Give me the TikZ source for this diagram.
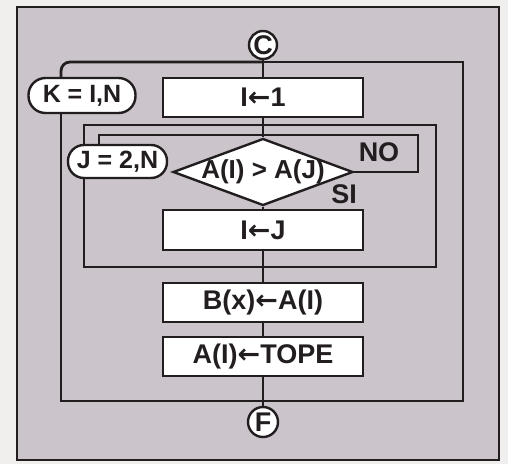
\documentclass[tikz,border=0pt]{standalone}
\usepackage{fontspec}
\setmainfont{Liberation Sans}
\newfontfamily\arrfont{DejaVu Sans}
\usetikzlibrary{shapes.geometric}
\definecolor{paper}{RGB}{240,239,237}
\definecolor{panel}{RGB}{203,196,202}
\definecolor{ink}{RGB}{34,30,32}
\newcommand{\lar}{{\arrfont\bfseries ←}}
\begin{document}
\begin{tikzpicture}[x=1pt,y=-1pt,
  every node/.style={font=\bfseries\fontsize{27}{30}\selectfont, text=ink},
  stepbox/.style={draw=ink, line width=2.4pt, fill=white, minimum width=200, minimum height=39, inner sep=0},
  loopnode/.style={draw=ink, line width=2.4pt, fill=white, inner sep=0, font=\bfseries\fontsize{25}{28}\selectfont},
  connector/.style={draw=ink, line width=2.4pt, fill=white, circle, inner sep=0, minimum size=28},
  decision/.style={draw=ink, line width=2.4pt, fill=white, diamond, aspect=2.7, inner sep=0, minimum width=180, minimum height=67},
  loopline/.style={draw=ink, line width=2.8pt},
  flow/.style={draw=ink, line width=2.4pt},
  lbl/.style={inner sep=0}]
\useasboundingbox (0,0) rectangle (508,464);
\fill[paper] (0,0) rectangle (508,464);
\draw[ink, line width=2.8pt, fill=panel] (17,7) rectangle (499,460);

% coordinates of the loop frames
\coordinate (oTL) at (61,62);
\coordinate (oTM) at (263,62);
\coordinate (oTR) at (463,62);
\coordinate (oBR) at (463,401);
\coordinate (iTL) at (84,125);
\coordinate (iTR) at (436,125);
\coordinate (iBR) at (436,267);
\coordinate (nTR) at (418,135);
\coordinate (nTL) at (99,135);

% nodes
\node[connector] (C) at (263,45) {C};
\node[stepbox] (I1) at (263,97.5) {I\lar1};
\node[decision] (D) at (263,172) {\makebox[0pt]{\fontsize{26}{28}\selectfont A(I) > A(J)}};
\node[stepbox, minimum height=40] (IJ) at (263,230) {I\lar J};
\node[stepbox] (B) at (263,302.5) {B(x)\lar A(I)};
\node[stepbox] (T) at (263,356.5) {A(I)\lar TOPE};
\node[connector, minimum size=30] (F) at (263,422) {F};
\node[loopnode, rounded corners=17pt, minimum width=107, minimum height=35] (K) at (82,95.5) {K = I,N};
\node[loopnode, rounded corners=16pt, minimum width=99, minimum height=33] (J) at (117.5,161.5) {J = 2,N};
\node[lbl] (no) at (379,152) {NO};
\node[lbl] (si) at (344,194) {SI};

% outer loop K
\draw[loopline, rounded corners=9pt] (K.north -| oTL) |- (oTM);
\draw[loopline] (oTM) -- (oTR) -- (oBR) -| (K.south -| oTL);
% inner loop J
\draw[loopline] (J.north -| iTL) |- (iTR) -- (iBR) -| (J.south -| iTL);
% NO branch back to J
\draw[loopline] (D.east) -| (nTR) -| (J.north -| nTL);

% main flow
\draw[flow] (C) -- (I1);
\draw[flow] (I1) -- (D);
\draw[flow] (D) -- (IJ);
\draw[flow] (IJ) -- (B);
\draw[flow] (B) -- (T);
\draw[flow] (T) -- (F);
\end{tikzpicture}
\end{document}
